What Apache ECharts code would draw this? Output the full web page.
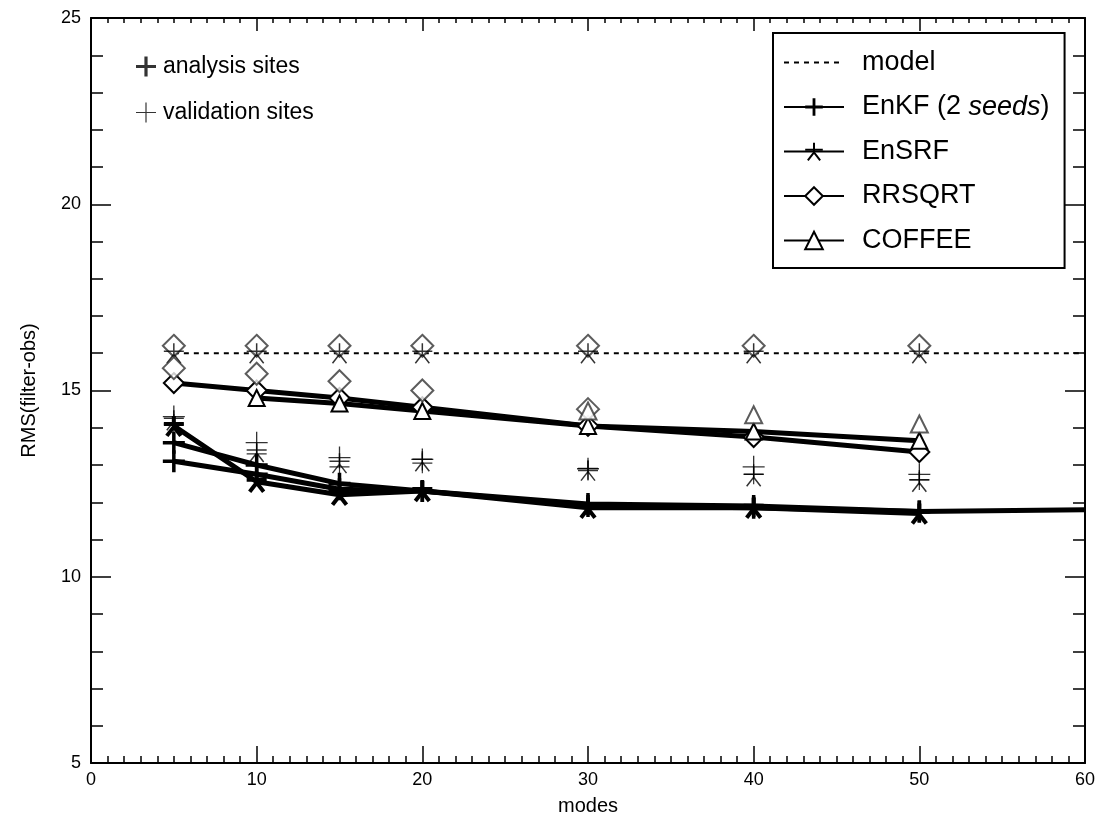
<!DOCTYPE html>
<html><head><meta charset="utf-8">
<script src="https://cdn.jsdelivr.net/npm/echarts@6/dist/echarts.min.js"></script>
<style>html,body{margin:0;padding:0;background:#fff}#c{width:1100px;height:816px}</style>
</head><body><div id="c"></div>
<script>
// ---- data ----
const modes = [5, 10, 15, 20, 30, 40, 50];
const modelX = [5, 60];
const modelRMS = [16, 16];
const enkfSeed1X = [5, 10, 15, 20, 30, 40, 50, 60];
const enkfSeed1 = [13.6, 13.0, 12.5, 12.3, 11.95, 11.9, 11.75, 11.8];
const enkfSeed2 = [13.1, 12.75, 12.35, 12.3, 11.9, 11.85, 11.75];
const ensrf = [14.05, 12.55, 12.2, 12.3, 11.85, 11.85, 11.7];
const rrsqrt = [15.2, 15.0, 14.8, 14.55, 14.05, 13.75, 13.35];
const coffeeX = [10, 15, 20, 30, 40, 50];
const coffee = [14.8, 14.65, 14.45, 14.05, 13.9, 13.65];
// validation sites
const enkfValA = [14.3, 13.6, 13.2, 13.15, 12.9, 12.95, 12.75];
const enkfValB = [14.1, 13.3, 12.95, 13.05, 12.85, 12.75, 12.6];
const ensrfVal = [14.2, 13.35, 13.05, 13.1, 12.85, 12.7, 12.55];
const rrsqrtValX = [5, 10, 15, 20, 30];
const rrsqrtVal = [15.6, 15.45, 15.25, 15.0, 14.5];
const coffeeValX = [30, 40, 50];
const coffeeVal = [14.45, 14.35, 14.1];
const modelValDiamond = [16.2, 16.2, 16.2, 16.2, 16.2, 16.2, 16.2];
const modelValStar = [16.0, 16.0, 16.0, 16.0, 16.0, 16.0, 16.0];
const xRange = [0, 60], xStep = 10;
const yRange = [5, 25], yStep = 5;
const legendNames = ['model', 'EnKF (2 seeds)', 'EnSRF', 'RRSQRT', 'COFFEE'];
const siteNames = ['analysis sites', 'validation sites'];

// ---- symbols ----
const plusBold = 'path://M-1.6,-10H1.6V10H-1.6Z M-10,-1.6H10V1.6H-10Z';
const plusThin = 'path://M-0.6,-10H0.6V10H-0.6Z M-10,-0.6H10V0.6H-10Z';
const starPath = 'path://M0,-10L0,3M-10,-2L10,-2M0,1L-7,10M0,1L7,10';

const pairs = (xs, ys) => xs.map((x, i) => [x, ys[i]]);
const font = 'Liberation Sans';

function lineSeries(name, xs, ys, symbol, size, bw, extra) {
  return Object.assign({
    name, type: 'line', data: pairs(xs, ys), symbol, symbolSize: size,
    lineStyle: { color: '#000', width: 5 },
    itemStyle: { color: '#000', borderColor: '#000', borderWidth: bw },
    emphasis: { disabled: true }, z: 3
  }, extra || {});
}
function valSeries(name, xs, ys, symbol, size, bw, col) {
  return {
    name, type: 'scatter', data: pairs(xs, ys), symbol, symbolSize: size,
    itemStyle: { color: col || '#000', borderColor: col || '#000', borderWidth: bw },
    emphasis: { disabled: true }, z: 4
  };
}

const seed1Data = pairs(enkfSeed1X, enkfSeed1).map((p, i) =>
  i === enkfSeed1X.length - 1 ? { value: p, symbol: 'none' } : p);

const axisCommon = {
  type: 'value', splitLine: { show: false },
  axisLine: { show: true, onZero: false, lineStyle: { color: '#000', width: 2 } }
};

const option = {
  backgroundColor: '#fff',
  animation: false,
  grid: { left: 91, right: 15, top: 18, bottom: 53, containLabel: false, outerBoundsMode: 'none' },
  xAxis: [
    Object.assign({}, axisCommon, {
      position: 'bottom', min: xRange[0], max: xRange[1], interval: xStep,
      axisTick: { inside: true, length: 17, lineStyle: { color: '#000', width: 1.5 } },
      minorTick: { show: true, splitNumber: 10, length: 7, lineStyle: { color: '#000', width: 1.5 } },
      axisLabel: { color: '#000', fontSize: 18, fontFamily: font, margin: 8 },
      name: 'modes', nameLocation: 'middle', nameGap: 33,
      nameTextStyle: { color: '#000', fontSize: 20, fontFamily: font }
    }),
    Object.assign({}, axisCommon, {
      position: 'top', min: xRange[0], max: xRange[1], interval: xStep,
      axisTick: { inside: true, length: 13, lineStyle: { color: '#000', width: 1.5 } },
      minorTick: { show: true, splitNumber: 10, length: 5, lineStyle: { color: '#000', width: 1.5 } },
      axisLabel: { show: false }
    })
  ],
  yAxis: [
    Object.assign({}, axisCommon, {
      position: 'left', min: yRange[0], max: yRange[1], interval: yStep,
      axisTick: { inside: true, length: 20, lineStyle: { color: '#000', width: 1.5 } },
      minorTick: { show: true, splitNumber: 5, length: 12, lineStyle: { color: '#000', width: 1.5 } },
      axisLabel: { color: '#000', fontSize: 18, fontFamily: font, margin: 10 },
      name: 'RMS(filter-obs)', nameLocation: 'middle', nameGap: 52,
      nameTextStyle: { color: '#000', fontSize: 20, fontFamily: font }
    }),
    Object.assign({}, axisCommon, {
      position: 'right', min: yRange[0], max: yRange[1], interval: yStep,
      axisTick: { inside: true, length: 20, lineStyle: { color: '#000', width: 1.5 } },
      minorTick: { show: true, splitNumber: 5, length: 12, lineStyle: { color: '#000', width: 1.5 } },
      axisLabel: { show: false }
    })
  ],
  legend: [
    {
      data: legendNames.map(n => n === 'model' ? { name: n, itemStyle: { opacity: 0 } } : n),
      orient: 'vertical', left: 773, top: 33,
      itemWidth: 60, itemHeight: 22, itemGap: 17.5,
      borderColor: '#000', borderWidth: 2, backgroundColor: '#fff',
      padding: [16, 15, 14, 10],
      selectedMode: false,
      formatter: n => n === 'EnKF (2 seeds)' ? '{n|EnKF (2 }{i|seeds}{n|)}' : n,
      textStyle: {
        color: '#000', fontSize: 27, fontFamily: font, lineHeight: 26, padding: [0, 0, 0, 13],
        rich: { n: { fontSize: 27, fontFamily: font, color: '#000', lineHeight: 26 },
                i: { fontSize: 27, fontFamily: font, color: '#000', fontStyle: 'italic', lineHeight: 26 } }
      }
    },
    {
      data: siteNames, orient: 'vertical', left: 131, top: 50,
      itemWidth: 20, itemHeight: 20, itemGap: 23, selectedMode: false,
      textStyle: { color: '#000', fontSize: 23, fontFamily: font, padding: [0, 0, 0, 2] }
    }
  ],
  series: [
    // entries for the site-type key (no points)
    { name: 'analysis sites', type: 'scatter', data: [], symbol: plusBold, symbolSize: 20,
      itemStyle: { color: '#000' } },
    { name: 'validation sites', type: 'scatter', data: [], symbol: plusThin, symbolSize: 22,
      itemStyle: { color: '#000' } },
    // model
    { name: 'model', type: 'line', data: pairs(modelX, modelRMS), symbol: 'none',
      lineStyle: { color: '#000', width: 2, type: [5, 5] }, itemStyle: { color: '#000' },
      emphasis: { disabled: true }, z: 2 },
    // analysis lines
    lineSeries('EnKF (2 seeds)', enkfSeed1X, enkfSeed1, plusBold, 22, 0, { data: seed1Data }),
    lineSeries('EnKF (2 seeds)', modes, enkfSeed2, plusBold, 22, 0),
    lineSeries('EnSRF', modes, ensrf, starPath, 20, 4),
    lineSeries('RRSQRT', modes, rrsqrt, 'emptyDiamond', 20, 5),
    lineSeries('COFFEE', coffeeX, coffee, 'emptyTriangle', 16, 5),
    // validation sites
    valSeries('model val diamond', modes, modelValDiamond, 'emptyDiamond', 22, 1.2, '#333'),
    valSeries('model val star', modes, modelValStar, starPath, 20, 1.5),
    valSeries('RRSQRT val', rrsqrtValX, rrsqrtVal, 'emptyDiamond', 22, 1.2, '#333'),
    valSeries('COFFEE val', coffeeValX, coffeeVal, 'emptyTriangle', 17, 1.2, '#333'),
    valSeries('EnKF val A', modes, enkfValA, plusThin, 22, 0),
    valSeries('EnKF val B', modes, enkfValB, plusThin, 20, 0),
    valSeries('EnSRF val', modes, ensrfVal, starPath, 20, 1.5)
  ]
};
const chart = echarts.init(document.getElementById('c'), null, { renderer: 'canvas' });
chart.setOption(option);
</script>
</body></html>
